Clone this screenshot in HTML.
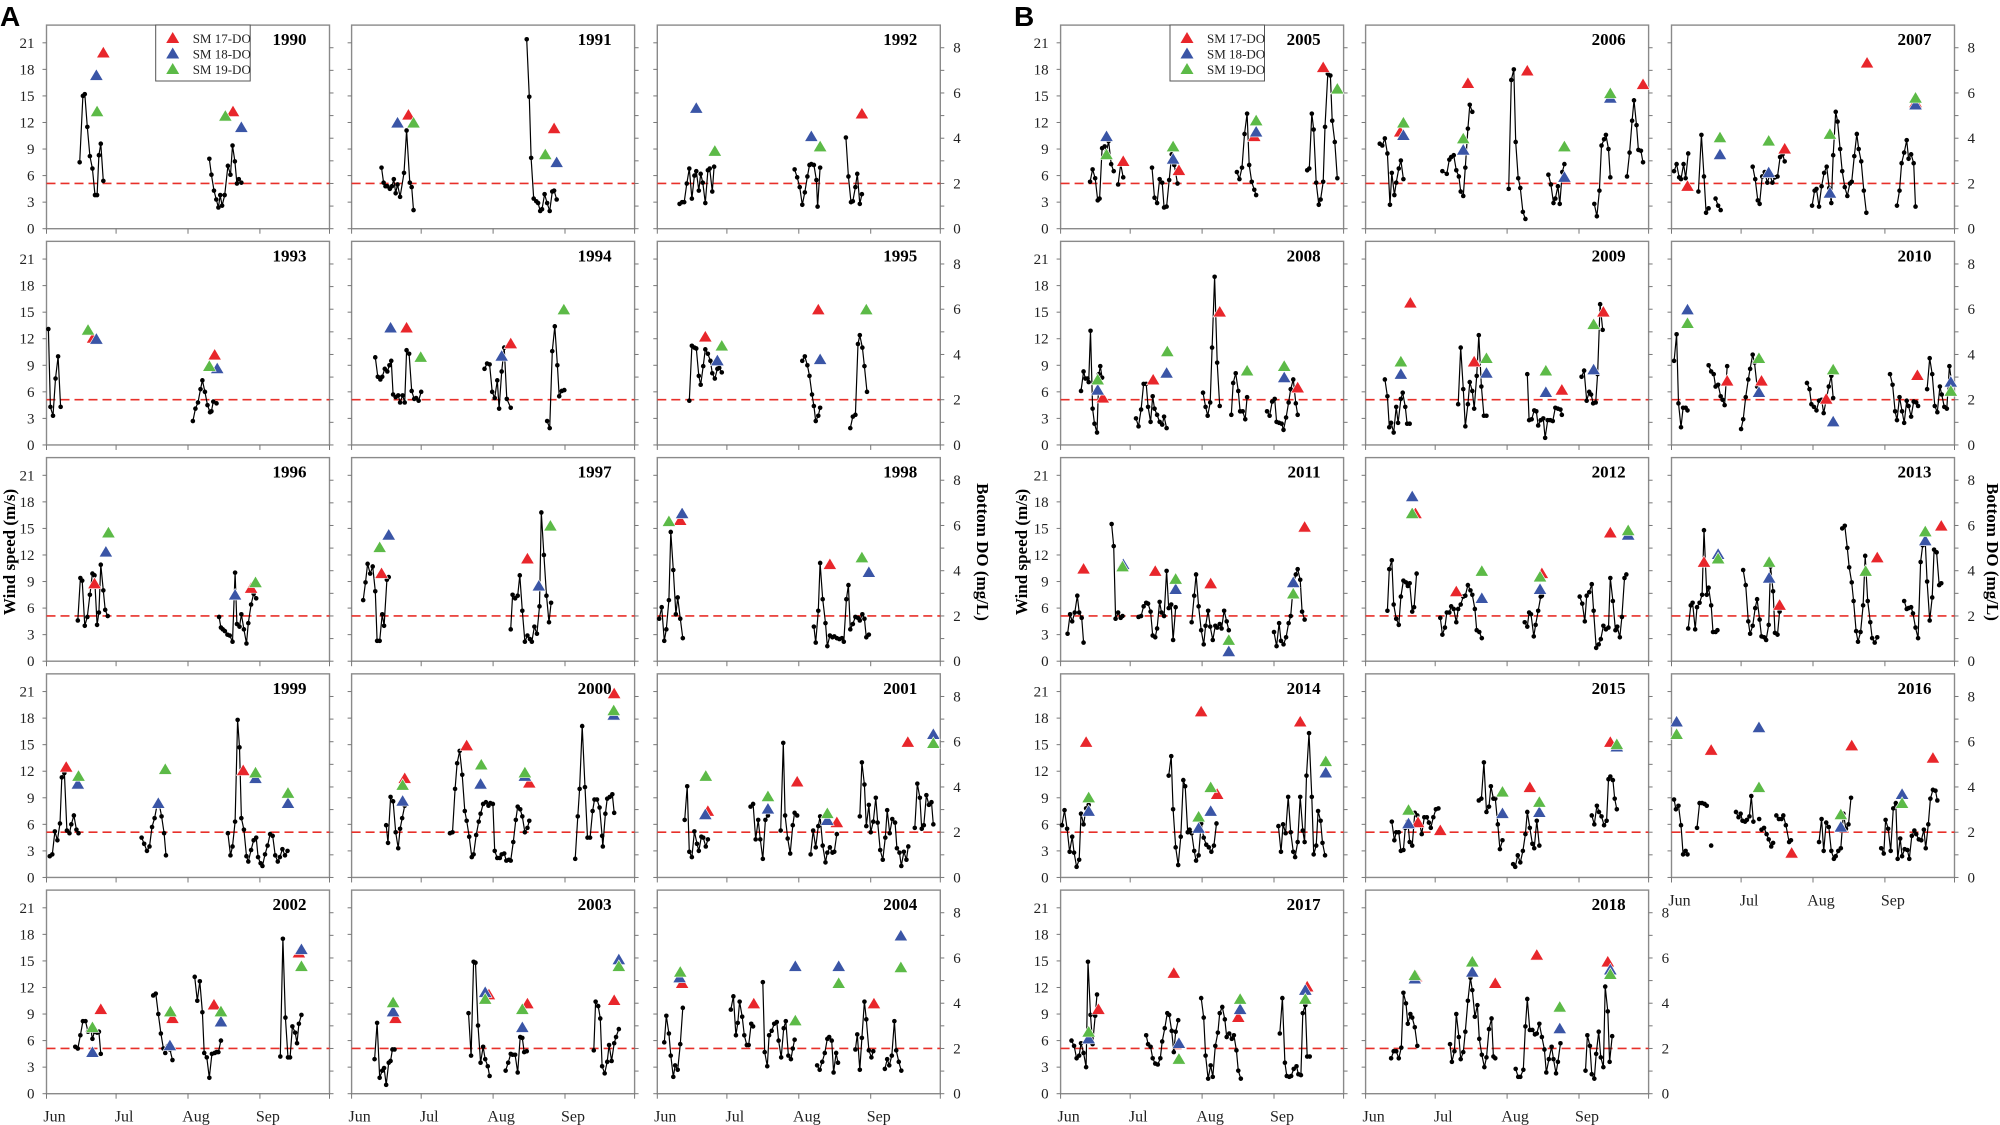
<!DOCTYPE html>
<html><head><meta charset="utf-8"><style>
html,body{margin:0;padding:0;background:#fff;}
svg{display:block;}
text{font-family:"Liberation Serif",serif;}
</style></head><body>
<svg id="fig" width="2000" height="1125" viewBox="0 0 2000 1125" xmlns="http://www.w3.org/2000/svg">
<text x="0" y="26" style="font-family:'Liberation Sans',sans-serif;font-weight:bold;font-size:28px">A</text>
<text x="1014" y="26" style="font-family:'Liberation Sans',sans-serif;font-weight:bold;font-size:28px">B</text>
<text transform="translate(15,552) rotate(-90)" text-anchor="middle" font-weight="bold" font-size="17">Wind speed (m/s)</text>
<text transform="translate(1027,552) rotate(-90)" text-anchor="middle" font-weight="bold" font-size="17">Wind speed (m/s)</text>
<text transform="translate(977,552) rotate(90)" text-anchor="middle" font-weight="bold" font-size="17">Bottom DO (mg/L)</text>
<text transform="translate(1987,552) rotate(90)" text-anchor="middle" font-weight="bold" font-size="17">Bottom DO (mg/L)</text>
<g id="panels"></g>
</svg>
<script>
const years = [1990,1991,1992,1993,1994,1995,1996,1997,1998,1999,2000,2001,2002,2003,2004,2005,2006,2007,2008,2009,2010,2011,2012,2013,2014,2015,2016,2017,2018];
const windTicks = [0,3,6,9,12,15,18,21];
const doTicks = [0,2,4,6,8];
const monthLabels = ["Jun","Jul","Aug","Sep"];
const monthDays = [0,30,61,92,122];
const doThreshold = 2;
const windSegs = [
[[14.3,7.5,15.7,15,16.5,15.2,17.6,11.5,18.7,8.2,19.8,6.8,20.9,3.8,21.8,3.8,22.6,8.3,23.4,9.6,24.5,5.4],[70.2,7.9,71.1,6.1,72.2,4.3,73.2,3.3,74.1,2.4,74.9,3.8,75.7,2.6,76.8,3.8,78.2,7.1,79.3,6.1,80.2,9.4,81.2,7.6,82.1,5.1,82.9,5.6,84,5.2]],
[[12.9,6.9,13.8,5.2,14.6,4.8,15.4,4.8,16.5,4.5,17.4,4.8,18.2,5.6,19,4,19.8,5,20.9,3.6,22.6,6.3,23.7,11.1,25.1,5.2,25.9,4.7,26.7,2.1],[75.5,21.4,76.6,14.9,77.4,8,78.5,3.4,79.6,3.1,80.4,2.9,81.3,2,82.1,2.2,83.2,3.9,84.3,2.9,85.4,2,86.5,4.2,87.3,4.3,88.4,3.3]],
[[9.6,2.8,10.7,3,11.6,3,12.7,5.1,13.8,6.8,14.9,3.4,16,6,16.8,6.5,17.9,4.3,18.7,6.2,19.6,5.2,20.7,2.9,21.8,6.6,22.6,6.8,23.7,4.2,24.5,7],[59.2,6.7,60.3,5.8,61.4,4.7,62.5,2.7,63.6,4.1,64.7,5.9,65.6,7.2,66.4,7.3,67.5,7.2,68.6,5.5,69.1,2.5,70.2,6.9],[81.3,10.3,82.4,5.9,83.5,3,84.3,3.1,85.4,4.7,86.2,6.2,87.3,2.8,88.2,3.9]],
[[0.8,13.1,1.7,4.3,2.8,3.3,3.9,7.5,5,10,6.1,4.3],[63.1,2.7,64.2,4.1,65.3,4.8,66.4,6.3,67.2,7.3,68.3,6,69.4,4.5,70.5,3.7,71.1,3.8,71.9,4.9,73.3,4.7]],
[[10.2,9.9,11.3,7.7,12.4,7.4,13.2,7.7,14.3,8.6,15.4,8.3,16.3,9,17.1,9.5,17.9,5.7,19,5.4,20.1,5.6,20.9,4.8,22,5.6,22.9,4.8,23.7,10.7,24.8,10.3,25.9,6.1,27,5.2,27.8,5.3,28.9,5,30,6],[57.3,8.6,58.4,9.2,59.5,9.1,60.6,6,61.7,5.3,62.8,7.3,63.6,4.1,64.7,8.3,65.8,11,66.9,5.2,68.6,4.2],[84.3,2.7,85.4,1.9,86.5,10.6,87.6,13.4,88.7,9,89.5,5.5,90.6,6.1,91.7,6.2]],
[[13.8,5,14.9,11.2,16,11,16.8,10.9,17.9,7.8,18.7,6.8,19.8,8.9,20.7,10.8,21.8,10.3,22.9,9.5,23.7,8.1,24.8,7.5,25.9,8.6,26.7,8.7,27.8,8.2],[62.5,9.5,63.6,10,64.7,9,65.6,7.8,66.7,5.7,67.5,4.4,68.3,2.7,69.4,3.3,70.2,4.2],[83.2,1.9,84.3,3.2,85.4,3.4,86.5,11.4,87.3,12.4,88.4,11,89.3,8.9,90.4,6]],
[[13.5,4.6,14.6,9.4,15.4,9.1,16.5,4,17.6,5,18.7,7.5,19.8,9.9,20.7,9.7,21.8,4.1,22.6,5.5,23.4,10.9,24.5,8,25.3,5.8,26.4,5.1],[74.4,5,75.2,3.8,76,3.6,76.9,3.4,78,3,79,2.9,80.2,2.2,81.3,10,82.1,4.2,83.2,3.9,84,5.3,85.1,3.6,86.2,2,87,4.3,88.2,6.4,89.3,7.6,90.4,7.1]],
[[5,6.9,6,8.9,6.9,11,8,9.9,9.1,10.7,10.2,7.9,11,2.3,12.1,2.3,13.2,5.3,14,4,15.2,9.2,16,9.5],[68.6,3.6,69.4,7.5,70.5,7.1,71.6,7.4,72.5,9.7,73.6,5.7,74.7,2.2,75.8,2.9,76.9,2.5,77.7,2.2,78.8,3.9,79.9,3.1,81,6.2,81.8,16.8,82.9,12,84,7.4,85.1,4.4,86,6.6]],
[[0.8,4.8,1.9,6.1,3,2.3,3.9,3.6,5,6.9,5.8,14.6,6.9,10.3,8,5.3,8.8,7.2,9.9,4.8,11,2.6],[67.5,3.9,68.3,2.1,69.4,5.7,70.2,11.1,71.3,7,72.5,4.3,73.3,1.7,74.4,2.9,75.5,2.7,76.3,2.8,77.4,2.6,78.5,2.5,79.6,2.6,80.4,2.2,81.5,7,82.4,8.6,83.2,3.6,84.3,4.2,85.4,5,86.5,4.9,87.3,4.6,88.4,5.3,89.3,4.8,90.1,2.7,91.2,3]],
[[1.4,2.4,2.5,2.6,3.6,5.2,4.7,4.2,5.8,6.1,6.6,11.3,7.7,11.8,8.8,5.3,9.9,5,10.7,6,11.8,7,12.9,5.4,13.8,5],[41,4.5,42.1,3.8,43.3,3,44.4,3.5,45.5,5.7,46.6,6.7,47.7,8.2,48.8,8,49.6,6.9,50.7,5,51.5,2.5],[78.2,5,79.3,2.5,80.2,3.5,81.3,6.3,82.4,17.8,83.2,14.7,84,6.7,85.1,5.4,86.2,2.4,87,1.8,88.2,3.1,89.3,4.2,90.4,4.5,91.2,2.3,92.3,1.6,93.1,1.3,94.2,2.6,95.3,3.6,96.4,4.9,97.5,4.7,98.6,2.5,99.7,1.8,100.6,2.3,101.7,3.2,102.8,2.5,103.9,3]],
[[14.9,5.9,15.7,3.9,16.8,9.1,17.9,8.6,19,5.1,20.1,3.3,20.9,5.5,21.8,6.7,22.9,8.1],[42.4,5,43.5,5.1,44.6,10,45.5,12.9,46.6,14.3,47.7,11.6,48.8,7.5,49.6,6.4,50.7,4.6,51.8,2.3,52.6,2.6,53.7,4.8,54.8,6.3,55.6,7.2,56.7,8.3,57.9,8.5,59,8.1,59.8,8.4,60.9,8.3,61.7,3,62.8,2.2,63.9,2.2,64.7,2.6,65.8,2.7,66.7,1.9,67.8,2,68.6,1.9,69.7,4,70.8,6.5,71.6,8,72.7,7.7,73.6,6.9,74.7,5.1,75.8,5.6,76.6,6.4],[96.4,2.1,97.5,6.9,98.3,10,99.4,17.1,100.6,10.2,101.7,4.5,102.8,4.5,103.9,7.5,104.7,8.8,105.8,8.8,106.9,7.9,108,4.7,108.3,3.5,109.4,7.2,110.2,8.9,111.3,9.1,112.4,9.4,113.2,7.3]],
[[11.8,6.5,12.9,10.3,13.8,2.9,14.9,2.3,16,5.2,17.1,3.8,17.9,3,19,4.6,19.8,4.5,20.9,3.5,21.8,4.3],[40.2,8,41.3,8.3,42.4,4.3,43.5,6.5,44.4,4.3,45.5,2.1,46.6,6.5,47.7,7],[53.2,5.3,54.3,15.2,55.1,7,56.2,4.4,57.3,2.7,58.4,5.9,59.2,7.3,60.3,7],[66.1,2.6,67.2,5.3,68.3,3.4,69.4,5.8,70.2,6.9,71.3,3.6,72.5,1.7,73.3,2.8,74.4,3.4,75.5,2.8,76.3,2.9,77.4,4.9],[87.3,6.9,88.2,13,89.3,10.5,90.1,5.8,91.2,8.2,92,5.1,93.1,6.3,94.2,9,95,6.2,96.1,3.1,97.2,2,98.3,4.5,99.1,7.6,100.2,5,101.3,6.6,102.5,6.2,103.3,3.3,104.4,2.8,105.2,1.3,106.3,2.9,107.4,2,108.2,3.5],[111,5.6,112.1,10.6,113.2,9,114,5.5,114.9,5.9,116,9.3,117.1,8.2,118.2,8.5,119,6]],
[[12.4,5.3,13.5,5.1,14.6,6.6,15.7,8.2,16.8,8.2,17.9,7,19,7.4,19.8,6.2,20.7,7,21.8,6.9,22.6,7,23.4,4.5],[46,11.1,47.1,11.3,48.2,9,49.3,6.8,50.4,5.1,51.2,4.6,52.3,5.4,53.2,5,54.3,3.8],[63.9,13.2,65,10.5,66.1,12.7,67.2,9.2,68,4.6,69.1,4.1,70.2,1.8,71.3,4.5,72.5,4.6,73.3,4.7,74.1,4.7,75.2,6],[100.8,4.2,101.9,17.5,103,8.6,104.1,4.1,105,4.1,106,7.6,107.2,6.9,108,5.7,108.8,7.9,109.9,8.9]],
[[9.9,3.9,11,8,12.1,1.8,13.2,2.6,14,2.9,14.9,1,16,3.5,16.8,3.7,17.6,5,18.5,5],[50.4,9.1,51.5,4.3,52.6,14.9,53.4,14.8,54.5,7.7,55.6,3.5,56.7,5.3,57.6,3.9,58.7,3.1,59.5,2],[66.4,2.6,67.5,3.5,68.6,4.5,69.4,4.4,70.5,4.4,71.6,2.4,72.7,6.4,73.6,6.3,74.4,4.7,75.5,4.8],[104.4,4.9,105.2,10.4,106.3,9.9,107.2,8.5,108,3.1,109.1,2.3,110.2,3.6,111,5.5,112.1,3.7,113.2,5.7,114,6.4,115.2,7.3]],
[[3,5.8,3.9,8.8,5,6.8,5.8,4.3,6.9,1.9,7.7,3.2,8.8,2.7,9.9,5.6,11,9.7],[31.7,9.5,32.8,11,33.9,6.6,34.7,8,35.5,10.4,36.6,8.7,37.5,6.6,38.6,5.5,39.4,5.5,40.5,7.9,41.3,7.6],[45.5,12.6,46.3,4.7,47.4,3.1,48.2,6.6,49.3,7.1,50.4,7.9,51.5,8.1,52.3,6,53.4,4.1,54.5,7.4,55.4,8.2,56.5,4.3,57.6,3.9,58.4,5.1,59.2,6.1],[68.9,3.2,70,2.7,71.1,3.6,72.2,4.6,73.3,6.2,74.1,6.4,75.2,6,76,2.4,77.1,4.6,77.9,3.5],[85.4,5,86.2,6.7,87.3,2.7,88.2,6.3,89.3,10.4,90.1,8.4,91.2,4.9,92.3,4.1,93.1,4.8],[98.1,2.8,99.1,3.9,100,3.2,101.1,4.3,102.2,8.2,103,4.9,104.1,3.6,105.2,2.6]],
[[12.7,5.3,13.8,6.7,14.9,5.7,16,3.2,16.8,3.4,17.9,9.1,19,9.3,19.8,8.7,20.7,9.9,21.8,7.3,22.9,6.5],[24.8,5,25.9,7.3,27,5.8],[39.4,6.9,40.5,3.5,41.6,2.9,42.7,5.6,43.8,5.2,44.6,2.4,45.7,2.5,46.8,5.5,47.9,8.4,49,7.2,50.4,5.1],[76,6.4,77.1,5.6,78.2,6.9,79.3,10.7,80.4,13,81.3,7.2,82.4,5.3,83.5,4.4,84.3,3.8],[106.3,6.6,107.2,6.8,108.3,13,109.1,11.2,110.2,5.2,111.3,2.7,112.1,3.3,113.2,5.3,114,11.5,115.2,17.5,116.3,17.3,117.1,12.2,118.2,9.8,119.3,5.7]],
[[6.1,9.6,7.2,9.4,8.3,10.2,9.4,8.5,10.5,2.7,11.3,6.3,12.4,3.8,13.2,5.2,14.3,6.8,15.2,7.7,16.3,5.6],[33.1,6.5,35,6.2,36.1,7.8,36.9,8.1,38,8.3,39.1,6.6,40.2,5.9,41,4.2,42.1,3.7,43,6.9,44.1,11.3,44.9,14,46,13.2],[61.7,4.5,62.8,16.8,63.9,18,64.7,9.8,65.8,5.7,66.7,4.6,67.8,1.9,68.9,1.1],[78.8,6.1,79.9,5,81,2.9,81.8,3.4,82.9,4.8,83.7,2.8,84.8,6.4,85.7,7.3],[98.6,2.8,99.7,1.4,100.8,4.3,101.7,9.4,102.8,10.1,103.6,10.6,104.7,9,105.5,5.8],[112.7,5.9,113.8,8.6,114.9,12.2,115.7,14.5,116.8,11.7,117.6,8.9,118.7,8.8,119.6,7.5]],
[[1.1,6.5,2.2,7.3,3.3,5.8,4.1,5.6,5.2,7.3,6.1,5.7,7.2,8.5],[11.6,4.2,12.9,10.6,14,5.9,14.9,1.8,16,2.3],[19,3.4,20.1,2.6,21.2,2.1],[35,7,36.1,5.6,37.2,3.2,38,2.8,39.1,5.9,40.2,6.4,41.3,5.2,42.4,6.1,43.5,5.2,44.6,5.8,45.7,5.9,46.8,8.1,47.9,8.4,48.8,7.6],[60.6,2.6,61.7,4.3,62.5,4.5,63.6,2.5,64.7,4.8,65.8,6.3,66.9,7,68,4.6,68.9,2.9,69.7,8.3,70.8,13.2,71.6,12.1,72.7,9,73.6,6.5,74.7,4.7,75.8,3.7,76.9,5.1,77.7,5.3,78.8,8.2,79.9,10.7,80.7,9,81.8,7.6,82.9,4.3,84,1.8],[97.2,2.6,98.3,4.3,99.2,7.4,100.3,8.6,101.4,10,102.2,7.9,103.3,8.4,104.4,7.4,105.2,2.5]],
[[8.8,6.1,9.9,8.3,10.7,7.5,11.6,7.5,12.1,7.1,12.9,12.9,13.8,4.1,14.6,2.4,15.7,1.4,16.5,8,17.1,8.9,17.9,7.6],[32.5,3,33.6,2.1,34.7,4,35.8,6.9,36.9,6.9,37.7,4.3,38.8,2.6,39.7,5.5,40.5,4.1,41.6,3.4,42.7,2.6,43.8,2.3,44.6,3.2,45.7,1.9],[61.4,5.9,62.5,4.3,63.4,3.3,64.5,4.8,65.3,11,66.4,19,67.5,9.3,68.6,4.4],[73.6,3.4,74.4,7,75.5,8.1,76.6,6.1,77.4,3.8,78.5,3.8,79.6,2.9,80.4,5.4],[89,3.8,90.1,3.3,91.2,4.9,92.3,5.2,93.1,2.6,94.2,2.5,95.3,2.4,96.1,1.7,97.2,3.1,98.3,4.8,99.2,6.3,100.3,7.4,101.4,4.7,102.2,3.4]],
[[8.3,7.4,9.4,5.5,10.2,2,11,2.5,12.1,1.4,13.2,4.3,14,2.5,15.2,5.2,16,5.9,17.1,4.3,17.9,2.4,19,2.4],[39.9,4.6,41,11,42.1,6.3,43,2.1,44.1,4.6,44.9,7.1,46,6.1,46.8,4.1,47.9,7.8,48.8,12.4,49.9,6.6,51,3.3,52.1,3.3],[69.7,8,70.5,2.8,71.6,2.9,72.7,3.9,73.6,3.8,74.4,2.2,75.5,2.8,76.6,3,77.4,0.8,78.5,2.8,79.6,2.8,80.7,2.7,81.8,4.2,82.9,4.1,84,4,84.6,3.4],[93.1,7.7,94.2,8.4,95.3,5,96.4,6,97.2,5.7,98.1,4.7,99.2,4.8,100,8,101.1,15.9,102.2,13]],
[[1.1,9.5,2.2,12.5,3,4.7,4.1,2,5,4.2,6.1,4.2,6.9,3.9],[16,9,17.1,8.3,18.2,8,19,6.6,20.1,6.8,21.2,5.5,22,5.1,22.9,4.5,24,8.9],[30,1.8,30.9,2.9,32,5.4,33.1,7.4,33.9,8.6,35,10.2,35.8,9.3,36.9,6.6],[58.4,7,59.5,6.3,60.3,4.6,61.4,4.3,62.5,3.9,63.6,5,64.7,5.1,65.6,3.6,66.7,5.1,67.8,6.6,68.9,7.8,69.7,5.3],[94.2,8,95.3,6.8,96.4,3.8,97.2,2.8,98.3,5.4,99.4,3.8,100.3,2.5,101.4,5,102.2,4.4,103.3,3.2,104.4,4.9,105.5,4.8,106.3,4.4],[110.2,6.3,111.3,9.8,112.4,8,113.5,4.4,114.6,3.7,115.7,6.6,116.5,5.7,117.6,4.3,118.7,4.1,119.8,8.9,120.7,7.2]],
[[3,3.1,4.1,5.3,5,4.5,6.1,5.5,7.2,7.4,8,5.5,9.1,4.9,9.9,2.1],[22,15.5,22.9,13,23.7,4.8,24.8,5.5,25.9,4.9,26.7,5.1],[33.6,5,34.7,5.1,35.8,6.2,36.9,6.6,37.7,6.5,38.8,5.6,39.7,2.9,40.8,2.7,41.6,3.7,42.7,6.7,43.5,5.5,44.6,5.1,45.7,10.2,46.6,6,47.7,6.4,48.5,2.4,49.6,6.1],[56.5,4.4,57.6,7.4,58.4,9.8,59.5,6.2,60.6,3.5,61.7,1.9,62.5,4,63.6,5.7,64.5,3.9,65.6,2.4,66.7,4,67.5,3.8,68.6,4.2,69.4,3.7,70.5,5.7,71.6,4.5,72.5,3.5],[92,3.3,93.1,1.7,94.2,4.3,95,2.3,96.1,1.9,97.2,2.7,98.3,4.3,99.2,5.1,100.3,8.6,101.4,9.8,102.2,10.4,103.3,9.2,104.1,5.6,105.2,4.7]],
[[9.4,5.7,10.2,10.4,11.3,11.4,12.1,6.4,13.2,4.8,14.3,4.1,15.2,7.3,16.3,9.1,17.4,8.9,18.2,8.5,19,8.8,20.1,5.6,20.9,6.1,22,9.9],[32.2,4.9,33.1,3,34.2,3.8,35,5.5,36.1,5.5,36.9,6.2,38,5.9,39.1,4.4,39.9,5.9,41,6.4,42.1,7.3,43,7.4,44.1,8.6,45.2,8,46,7.5,47.1,5.9,47.9,3.5,49,3.3,50.1,2.6],[68.6,4.4,69.7,3.9,70.5,5.5,71.3,5.3,72.5,2.8,73.3,4.1,74.4,5.7,75.5,7.3,76,7.4],[92.3,7.3,93.4,6.5,94.5,4.5,95.3,7.4,96.4,7.8,97.5,8.7,98.3,5.7,99.4,1.5,100.5,1.9,101.4,2.5,102.5,4,103.6,3.6,104.7,3.8,105.5,9.4,106.6,6.8,107.7,3.5,108.5,3.9,109.6,2.7,110.5,5,111.6,9.4,112.4,9.8]],
[[7.2,3.7,8.3,6.3,9.1,6.6,10.2,3.6,11,6.1,12.1,6.6,13.2,7.5,14,14.8,15.2,7.5,16,8.3,17.1,6.3,17.9,3.3,19,3.3,19.8,3.5],[30.9,10.3,32,8.6,33.1,4.5,33.9,3.1,35,4,36.1,6,36.9,7,38,4.7,38.8,2.8,39.9,2.7,40.8,2.4,41.9,4.1,42.7,10.7,43.8,7.9,44.6,3.2,45.7,3,46.6,5.6],[73.6,15,74.7,15.3,75.8,12.8,76.6,10.6,77.7,8.9,78.5,6.8,79.6,3.4,80.4,2.2,81.5,3.3,82.6,6.3,83.5,11.9,84.6,6.8,85.7,4.4,86.5,2.6,87.6,2.1,88.7,2.7],[100.3,6.8,101.4,5.9,102.2,6,103.3,6.1,104.1,5.4,105.2,3.8,106.3,2.6,107.4,11.2,108.3,13.1,109.4,13.4,110.2,9,111.3,4.6,112.4,7.2,113.2,12.6,114.3,12.3,115.4,8.6,116.3,8.8]],
[[0.6,5.9,1.7,7.6,2.8,5.5,3.9,2.9,5,4.6,5.8,2.8,6.9,1.2,8,2,8.8,7.2,9.9,6,11,7.8,12.1,8.2],[46.6,11.5,47.7,13.7,48.5,7.7,49.6,3.4,50.7,1.4,51.8,4.6,52.9,11,53.7,10.3,54.8,5.1,55.6,5.4,56.5,5,57.6,3,58.4,1.9,59.5,2.5,60.6,6.1,61.7,4.5,62.8,3.7,63.9,3.4,65,2.9,66.1,3.6,67.2,6.1],[93.9,5.8,95,2.9,95.9,6,97,5,98.1,9.1,99.2,5.1,100.3,2.9,101.1,2.3,102.2,4,103.3,9.1,104.4,5.3,105.2,4,106,11.5,107.1,16.3,108.3,9.1,109.1,2.6,110.2,3.6,111,7.5,112.1,6.4,112.9,3.9,114,2.5]],
[[11.3,6.3,12.4,4.2,13.2,5.1,14.3,5.1,15.2,3,16.3,3.1,17.1,5.6,18.2,6.3,19,4,20.1,3.6,21.2,7.3,22.3,7,23.4,6,24.2,4.9,25.3,6.8,26.4,6.8,27.3,6.2,28.1,5.6,29.2,6.8,30.3,7.7,31.4,7.8],[48.8,8.7,49.9,8.9,51,13,52.1,7.4,53.2,8,54,10.3,55.1,8.9,55.9,8.9,57,6,57.9,3.2,59,4.2],[63.6,1.5,64.5,1.2,65.6,2.5,66.7,1.7,67.8,3,68.9,4.9,69.7,7.4,70.8,5.6,71.9,3.8,72.7,3.3,73.8,6.4,74.9,3.6],[97.5,7,98.6,6,99.7,8.1,100.6,7.4,101.7,6.9,102.8,5.9,103.9,6.4,104.7,11.1,105.5,11.4,106.6,11,107.4,8.9,108.3,7.7]],
[[1.1,8.8,1.9,7.7,3,8.1,4.1,5.9,5,2.6,6.1,3,6.9,2.6],[11,5.6,12.1,8.4,13.2,8.4,14.3,8.3,15.2,8.1],[17.1,3.6],[27.8,7.4,28.9,6.8,29.8,7.2,30.6,6.4,31.7,6.3,32.5,6.5,33.6,6.9,34.4,9.2,35.3,6.3],[37.8,6.6],[38.8,5.4,39.9,5.6,41,4.9,41.9,4.3,43,3.5,43.8,3.9],[45.2,7,46.3,6.6,47.4,6.6,48.2,7,49.3,5.9,50.7,4,51.5,4.2],[63.6,4,64.7,6.6,65.6,3,66.7,6.2,67.8,5.7,68.9,3,70,2.1,70.8,2.4,71.9,3,73,3.3,74.1,7.2,75.2,5.5,76.3,6,77.4,9],[90.4,3.3,91.5,2.7,92.3,6.5,93.4,5.5,94.5,3,95.6,7.8,96.7,8.4,97.5,2.1,98.6,4.4,99.4,2.4,100.5,3.2,101.7,3.1,102.5,2.1,103.6,4.7,104.7,5.3,105.5,4.9,106.6,4.3,107.7,4.2,108.8,5.4,109.6,3.3,110.7,6,111.6,8.9,112.7,9.9,113.8,9.8,114.6,8.7]],
[[4.7,6,5.8,5.4,6.9,4,8,4.3,8.8,5.7,9.9,4.6,11,3,11.8,14.9,12.9,8.9,13.8,5.6,14.9,8.8,15.7,11.2],[36.9,6.6,37.7,5.6,38.8,5.3,39.7,4,40.8,3.4,41.9,3.3,43,4,43.8,5.9,44.9,7.4,46,9.1,46.8,8.9,47.9,7.1,48.8,4.7,49.6,7,50.7,8.3],[60.6,10.8,61.7,8.6,62.5,4.3,63.6,1.7,64.7,3.2,65.6,1.9,66.7,5.4,67.8,6.9,68.6,9.1,69.7,9.8,70.8,8.4,71.6,6.4,72.7,6.8,73.8,6.2,74.7,6.6,75.8,4.9,76.6,2.6,77.7,1.7],[94.5,6.8,95.6,10.8,96.7,3.5,97.5,2,98.6,1.9,99.4,2,100.5,2.8,101.7,3.1,102.5,2.2,103.6,2.1,104.4,9.1,105.5,10,106.3,4.2,107.4,4.2]],
[[11,4,12.1,4.8,13.2,4.8,14.3,4,15.4,5.2,16.3,11.4,17.4,10.2,18.2,7.9,19.3,9,20.1,8.6,21.2,7.5,22.3,5.4],[36.4,5.6,37.2,3.6,38.3,4.8,39.1,9,40.2,6.4,41,3.9,42.1,4.7,43,7,44.1,10.5,45.2,13.1,46,11.7,47.1,8.7,48.2,10,49,6.2,50.1,4.4,51.2,3,52.1,4.1,53.2,7.3,54.3,8.5,55.1,4.2,55.9,4],[64.7,2.8,65.8,1.9,66.7,1.9,68,2.7,68.9,7.6,69.7,10.7,70.8,7.2,71.9,7.2,73,6.7,73.8,6.8,74.9,7.9,76,6.4,77.1,5,77.9,2.4,79,3.9,80.2,5.3,81,3.9,82.1,2.3,82.9,3.6,84,5.7],[94.8,2.6,95.6,6.6,96.7,5.4,97.5,2.2,98.6,1.7,99.4,4.5,100.5,7,101.4,4.1,102.5,3,103.3,12.1,104.4,9.3,105.2,3.6,106.3,6.5]]
];
const do17 = [
[24.5,7.8,80.4,5.2],[24.5,5.05,87.3,4.45],[88.2,5.1],[20.1,4.75,72.5,4.0],[23.7,5.2,68.6,4.5],[20.7,4.8,69.4,6.0],
[20.7,3.45,88.2,3.25],[12.9,3.9,75.8,4.55],[9.9,6.25,74.4,4.3],[8.5,4.9,84.8,4.75],[22.9,4.4,49.6,5.85,76.6,4.2,113.2,8.15],
[21.8,2.95,60.3,4.25,77.4,2.45,108,6.0],[23.4,3.75,54.3,3.35,72.2,3.95,108.8,6.25],[18.9,3.35,59.2,4.4,75.8,4.0,113.2,4.15],[10.7,4.9,41.6,4.0,93.4,4.0],
[27,3.0,51,2.6,83.5,4.1,113.2,7.15],[14.9,4.3,44.1,6.45,69.7,7.0,119.6,6.4],[6.9,1.9,48.8,3.55,84.3,7.35,105.2,5.6],
[18.2,2.1,39.9,2.9,68.6,5.9,102.2,2.55],[19.3,6.3,46.8,3.7,84.6,2.45,102.5,5.9],[24,2.85,38.8,2.85,66.7,2.05,106,3.1],
[9.9,4.1,40.8,4.0,64.7,3.45,105.2,5.95],[21.5,6.55,39.1,3.1,76,3.9,105.5,5.7],[14,4.4,46.6,2.5,88.7,4.6,116.3,6.0],
[11,6.0,60.6,7.35,67.5,3.7,103.3,6.9],[22.6,2.45,32.2,2.1,70.8,4.0,105.5,6.0],[17.1,5.65,51.8,1.1,77.7,5.85,112.7,5.3],
[16.3,3.75,48.8,5.35,76.6,3.4,106.3,4.75],[21.8,5.2,55.9,4.9,73.8,6.15,104.4,5.85]
];
const do18 = [
[21.5,6.8,84,4.5],[19.8,4.7,88.4,2.95],[16.8,5.35,66.4,4.1],[21.5,4.7,73.6,3.4],[16.8,5.2,64.7,3.95],[25.9,3.75,70.2,3.8],
[25.6,4.85,81.3,2.95],[16,5.6,80.7,3.35],[10.7,6.55,91.2,3.95],[13.5,4.15,48.2,3.3,90.1,4.4,104.1,3.3],[22,3.4,55.6,4.15,74.7,4.5,113,7.2],
[20.7,2.8,47.7,3.05,73.3,2.55,119,6.35],[19.8,1.85,53.2,2.15,75.2,3.2,109.9,6.4],[17.9,3.65,57.6,4.5,73.6,2.95,115.2,5.95],[9.6,5.15,59.5,5.65,78.2,5.65,105,7.0],
[19.8,4.1,48.5,3.1,84.3,4.3],[16.3,4.15,42.1,3.5,85.7,2.3,105.5,5.8],[20.9,3.3,41.9,2.5,68.3,1.6,105.2,5.5],
[16,2.45,45.7,3.2,96.4,3.0],[15.2,3.15,52.1,3.2,77.7,2.35,98.3,3.35],[6.9,6.0,37.7,2.35,69.7,1.05,120.4,2.8],
[27,4.3,49.6,3.2,72.5,0.45,100.3,3.5],[20.1,7.3,50.1,2.8,75.2,3.2,113.2,5.6],[20.1,4.75,42.1,3.7,109.4,5.35],
[12.1,2.95,59.5,2.2,64.7,2.95,114.3,4.65],[18.5,2.4,59,2.85,74.9,2.9,108.3,5.8],[2.2,6.9,37.7,6.65,73,2.25,99.4,3.7],
[12.1,2.45,51,2.25,77.4,3.75,105.5,4.6],[21.2,5.1,46,5.4,83.7,2.9,105.5,5.5]
];
const do19 = [
[21.8,5.2,77.1,5.0],[26.7,4.7,83.5,3.3],[24.8,3.45,70.2,3.65],[17.9,5.1,70.2,3.5],[29.8,3.9,91.5,6.0],[27.8,4.4,90.1,6.0],
[26.7,5.7,90.1,3.5],[12.1,5.05,85.7,6.0],[5,6.2,88.2,4.6],[13.8,4.5,51.2,4.8,90.1,4.65,104.1,3.75],[22,4.1,55.9,5.0,74.7,4.65,113,7.4],
[20.9,4.5,47.7,3.6,73.3,2.85,119,5.95],[19.8,2.95,53.4,3.65,75.2,3.65,109.9,5.65],[17.9,4.05,57.6,4.2,73.6,3.75,115.2,5.65],[9.9,5.4,59.5,3.25,78.2,4.9,105,5.6],
[19.8,3.3,48.5,3.65,84.3,4.8,119.3,6.2],[16.3,4.7,42.1,4.0,85.7,3.65,105.5,6.0],[20.9,4.05,41.9,3.9,68.3,4.2,105.2,5.8],
[16,2.9,46,4.15,80.4,3.3,96.4,3.5],[15.2,3.7,52.1,3.85,77.7,3.3,98.3,5.35],[6.9,5.4,37.7,3.85,69.7,3.35,120.4,2.4],
[26.7,4.2,49.6,3.65,72.5,0.95,100.3,3.0],[20.1,6.55,50.1,4.0,75.2,3.75,113.2,5.8],[20.1,4.55,42.1,4.4,83.7,4.0,109.4,5.75],
[12.1,3.55,59.5,2.7,64.7,4.0,114.3,5.15],[18.5,3.0,59,3.8,74.9,3.35,108.3,5.9],[2.2,6.35,37.7,4.0,73,2.8,99.4,3.3],
[12.1,2.75,51,1.55,77.4,4.2,105.5,4.2],[21.2,5.25,46,5.85,83.7,3.85,105.5,5.3]
];

const NS = "http://www.w3.org/2000/svg";
const colA = [46.5, 351.6, 657.3];
const colB = [1060.6, 1365.6, 1671.5];
const PW = 283, U = 8.852, WMAX = 23, DOMAX = 9, DAYS = 122;
const root = document.getElementById('panels');
function mk(tag, attrs, parent){ const e=document.createElementNS(NS,tag); for(const k in attrs) e.setAttribute(k,attrs[k]); (parent||root).appendChild(e); return e; }
const colors = ["#e8262b","#3a55a6","#5cba47"];
const doSets = [do17, do18, do19];

years.forEach((yr, i) => {
  const isB = i >= 15; const j = isB ? i-15 : i;
  const col = j % 3, row = Math.floor(j/3);
  const left = (isB ? colB : colA)[col];
  const y0 = 228.7 + row*216.25;
  const top = y0 - WMAX*U;
  const xS = d => left + d/DAYS*PW;
  const yW = v => y0 - v*U;
  const yD = v => y0 - v*(WMAX/DOMAX)*U;
  const g = mk('g', {});
  
  
  const frame = mk('rect', {x:left, y:top, width:PW, height:WMAX*U, fill:'none', stroke:'#8a8a8a', 'stroke-width':1.4}, g);
  
  
  // left ticks
  windTicks.forEach(t => {
    mk('line', {x1:left-4, x2:left, y1:yW(t), y2:yW(t), stroke:'#777', 'stroke-width':1}, g);
    if (col === 0) {
      const tl = mk('text', {x:left-12, y:yW(t)+5, 'text-anchor':'end', 'font-size':15, fill:'#222'}, g);
      tl.textContent = t;
      
      
    }
  });
  // right ticks
  for (let t=0; t<=8; t++) mk('line', {x1:left+PW, x2:left+PW+4, y1:yD(t), y2:yD(t), stroke:'#777', 'stroke-width':1}, g);
  if (col === 2 || yr === 2018) {
    doTicks.forEach(t => {
      const tl = mk('text', {x:left+PW+13, y:yD(t)+5, 'font-size':15, fill:'#222'}, g);
      tl.textContent = t;
      
      
    });
  }
  // bottom ticks
  monthDays.forEach(d => mk('line', {x1:xS(d), x2:xS(d), y1:y0, y2:y0+5, stroke:'#777', 'stroke-width':1}, g));
  const showMonths = (!isB && row === 4) || (isB && row === 4) || (isB && yr === 2016);
  if (showMonths) {
    monthLabels.forEach((m, k) => {
      const ml = mk('text', {x:xS(monthDays[k])+8, y:y0+28, 'text-anchor':'middle', 'font-size':16, fill:'#222'}, g);
      ml.textContent = m;
      
      
    });
  }
  // threshold
  const th = mk('line', {x1:left, x2:left+PW, y1:yD(doThreshold), y2:yD(doThreshold), stroke:'#e8302a', 'stroke-width':1.6, 'stroke-dasharray':'9 5'}, g);
  
  
  // wind series
  windSegs[i].forEach(seg => {
    const pts = [];
    for (let k=0; k<seg.length; k+=2) pts.push(xS(seg[k]).toFixed(1)+','+yW(seg[k+1]).toFixed(1));
    const pl = mk('polyline', {points:pts.join(' '), fill:'none', stroke:'#000', 'stroke-width':1.2}, g);
    
    
    for (let k=0; k<seg.length; k+=2) {
      const c = mk('circle', {cx:xS(seg[k]), cy:yW(seg[k+1]), r:2.3, fill:'#000'}, g);
      
      
    }
  });
  // DO triangles
  doSets.forEach((set, s) => {
    const arr = set[i];
    for (let k=0; k<arr.length; k+=2) {
      const cx = xS(arr[k]), cy = yD(arr[k+1]);
      const tri = mk('polygon', {points:`${cx-6.8},${cy+5.5} ${cx+6.8},${cy+5.5} ${cx},${cy-6}`, fill:colors[s], stroke:'#fff', 'stroke-width':0.6}, g);
      
      
    }
  });
  // year label
  const yl = mk('text', {x:left+PW-23, y:top+20, 'text-anchor':'end', 'font-size':17, 'font-weight':'bold', fill:'#000'}, g);
  yl.textContent = yr;
  
  
  // legend
  if (yr === 1990 || yr === 2005) {
    const lx = yr === 1990 ? 155.7 : 1170;
    const lg = mk('g', {}, g);
    
    
    mk('rect', {x:lx, y:25, width:94.5, height:56, fill:'#fff', stroke:'#555', 'stroke-width':1}, lg);
    ["SM 17-DO","SM 18-DO","SM 19-DO"].forEach((lab, s) => {
      const cy = 38 + s*15.5, cx = lx+17;
      const it = mk('g', {}, lg);
      
      
      mk('polygon', {points:`${cx-6.5},${cy+5} ${cx+6.5},${cy+5} ${cx},${cy-6}`, fill:colors[s]}, it);
      const t = mk('text', {x:lx+37, y:cy+5, 'font-size':13, fill:'#222'}, it);
      t.textContent = lab;
    });
  }
});
</script>
</body></html>
